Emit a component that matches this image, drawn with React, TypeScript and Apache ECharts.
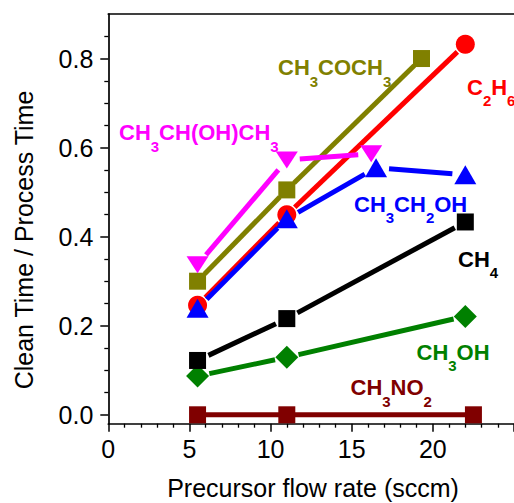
import React, { useEffect, useRef } from "react";
import * as echarts from "echarts";

// ---- data (x = precursor flow rate in sccm, y = clean time / process time) ----
const FLOW_CH3NO2 = [5.5, 11, 22.5];
const RATIO_CH3NO2 = [0, 0, 0];
const FLOW_CH3OH = [5.5, 11, 22];
const RATIO_CH3OH = [0.087, 0.129, 0.221];
const FLOW_CH4 = [5.5, 11, 22];
const RATIO_CH4 = [0.122, 0.216, 0.433];
const FLOW_CH3COCH3 = [5.5, 11, 19.3];
const RATIO_CH3COCH3 = [0.3, 0.505, 0.8];
const FLOW_C2H6 = [5.5, 11, 22];
const RATIO_C2H6 = [0.246, 0.449, 0.832];
const FLOW_CH3CH2OH = [5.5, 11, 16.5, 22];
const RATIO_CH3CH2OH = [0.239, 0.44, 0.555, 0.539];
const FLOW_IPA = [5.5, 11, 16.2];
const RATIO_IPA = [0.337, 0.572, 0.586];

const X_TICKS = [0, 5, 10, 15, 20];
const Y_TICKS = [0, 0.2, 0.4, 0.6, 0.8];

const X_TITLE = "Precursor flow rate (sccm)";
const Y_TITLE = "Clean Time / Process Time";

// rich-text series labels (subscripts in {s|..})
const LABEL_CH3COCH3 = "{m|CH}{s|3}{m|COCH}{s|3}";
const LABEL_C2H6 = "{m|C}{s|2}{m|H}{s|6}";
const LABEL_IPA = "{m|CH}{s|3}{m|CH(OH)CH}{s|3}";
const LABEL_CH3CH2OH = "{m|CH}{s|3}{m|CH}{s|2}{m|OH}";
const LABEL_CH4 = "{m|CH}{s|4}";
const LABEL_CH3OH = "{m|CH}{s|3}{m|OH}";
const LABEL_CH3NO2 = "{m|CH}{s|3}{m|NO}{s|2}";

const FONT = '"Liberation Sans", Arial, Helvetica, sans-serif';

type Def = {
  name: string;
  x: number[];
  y: number[];
  color: string;
  symbol: string;
  size: number[];
  rotate: number;
  gap: number;
};

const DEFS: Def[] = [
  { name: "CH3NO2", x: FLOW_CH3NO2, y: RATIO_CH3NO2, color: "#800000", symbol: "rect", size: [17, 17], rotate: 0, gap: 0 },
  { name: "CH3OH", x: FLOW_CH3OH, y: RATIO_CH3OH, color: "#008000", symbol: "diamond", size: [23, 23], rotate: 0, gap: 12 },
  { name: "CH4", x: FLOW_CH4, y: RATIO_CH4, color: "#000000", symbol: "rect", size: [17, 17], rotate: 0, gap: 12 },
  { name: "CH3COCH3", x: FLOW_CH3COCH3, y: RATIO_CH3COCH3, color: "#808000", symbol: "rect", size: [17, 17], rotate: 0, gap: 10 },
  { name: "C2H6", x: FLOW_C2H6, y: RATIO_C2H6, color: "#ff0000", symbol: "circle", size: [19, 19], rotate: 0, gap: 11 },
  { name: "CH3CH2OH", x: FLOW_CH3CH2OH, y: RATIO_CH3CH2OH, color: "#0000ff", symbol: "triangle", size: [22, 19], rotate: 0, gap: 13 },
  { name: "CH3CH(OH)CH3", x: FLOW_IPA, y: RATIO_IPA, color: "#ff00ff", symbol: "triangle", size: [22, 17], rotate: 180, gap: 13 },
];

const LABELS = [
  { text: LABEL_CH3COCH3, color: "#808000", left: 278, capTop: 60 },
  { text: LABEL_C2H6, color: "#ff0000", left: 467, capTop: 79.5 },
  { text: LABEL_IPA, color: "#ff00ff", left: 119, capTop: 125 },
  { text: LABEL_CH3CH2OH, color: "#0000ff", left: 354, capTop: 196.5 },
  { text: LABEL_CH4, color: "#000000", left: 458, capTop: 251.5 },
  { text: LABEL_CH3OH, color: "#008000", left: 416.5, capTop: 344.5 },
  { text: LABEL_CH3NO2, color: "#800000", left: 350.5, capTop: 380 },
];

export default function App() {
  const ref = useRef<HTMLDivElement>(null);

  useEffect(() => {
    if (!ref.current) return;
    const chart = echarts.init(ref.current, undefined, { renderer: "svg" });

    const series: any[] = [];
    DEFS.forEach((d, k) => {
      const pts = d.x.map((x, i) => [x, d.y[i]]);
      series.push({
        type: "custom",
        name: d.name + " line",
        data: pts,
        encode: { x: 0, y: 1 },
        z: 10 + 2 * k,
        silent: true,
        renderItem: (params: any, api: any) => {
          const i = params.dataIndex;
          if (i >= pts.length - 1) return { type: "group", children: [] };
          const p0 = api.coord(pts[i]);
          const p1 = api.coord(pts[i + 1]);
          const dx = p1[0] - p0[0];
          const dy = p1[1] - p0[1];
          const L = Math.hypot(dx, dy) || 1;
          const g = d.gap;
          return {
            type: "line",
            shape: {
              x1: p0[0] + (dx / L) * g,
              y1: p0[1] + (dy / L) * g,
              x2: p1[0] - (dx / L) * g,
              y2: p1[1] - (dy / L) * g,
            },
            style: { stroke: d.color, lineWidth: 5, lineCap: "butt" },
          };
        },
      });
      series.push({
        type: "scatter",
        name: d.name,
        data: pts,
        symbol: d.symbol,
        symbolSize: d.size,
        symbolRotate: d.rotate,
        itemStyle: { color: d.color, opacity: 1 },
        z: 11 + 2 * k,
        silent: true,
      });
    });

    const subPad = 17;
    const graphics: any[] = LABELS.map((l) => ({
      type: "text",
      x: l.left,
      y: l.capTop - 3.2,
      silent: true,
      style: {
        text: l.text,
        fill: l.color,
        font: `bold 22px ${FONT}`,
        align: "left",
        verticalAlign: "top",
        rich: {
          m: { font: `bold 22px ${FONT}`, fill: l.color, lineHeight: 22, verticalAlign: "top" },
          s: { font: `bold 15px ${FONT}`, fill: l.color, lineHeight: 15, padding: [subPad, 0, 0, 0], verticalAlign: "top" },
        },
      },
    }));
    graphics.push({
      type: "text",
      x: 313,
      y: 488,
      silent: true,
      style: { text: X_TITLE, fill: "#000", font: `25px ${FONT}`, align: "center", verticalAlign: "middle" },
    });
    graphics.push({
      type: "text",
      x: 24,
      y: 240,
      rotation: Math.PI / 2,
      silent: true,
      style: { text: Y_TITLE, fill: "#000", font: `25px ${FONT}`, align: "center", verticalAlign: "middle" },
    });

    const axisLine = { show: true, lineStyle: { color: "#000", width: 1.7 } };

    chart.setOption({
      animation: false,
      grid: { left: 108.3, top: 14, bottom: 79.3, right: -22.7, containLabel: false },
      xAxis: [
        {
          type: "value",
          min: 0,
          max: 25,
          interval: 5,
          axisLine: { ...axisLine, onZero: false },
          axisTick: { show: true, length: 8, inside: false, lineStyle: { color: "#000", width: 1.5 } },
          minorTick: { show: true, splitNumber: 5, length: 4, lineStyle: { color: "#000", width: 1.3 } },
          splitLine: { show: false },
          axisLabel: {
            show: true,
            color: "#000",
            fontSize: 25,
            fontFamily: FONT,
            margin: 13,
            customValues: X_TICKS,
          },
        },
        {
          type: "value",
          position: "top",
          min: 0,
          max: 25,
          interval: 5,
          axisLine: { ...axisLine, onZero: false },
          axisTick: { show: false },
          axisLabel: { show: false },
          splitLine: { show: false },
        },
      ],
      yAxis: {
        type: "value",
        min: -0.02,
        max: 0.9,
        splitNumber: 5,
        axisLine: { ...axisLine, onZero: false },
        axisTick: {
          show: true,
          length: 8,
          inside: false,
          customValues: Y_TICKS,
          lineStyle: { color: "#000", width: 1.5 },
        },
        minorTick: { show: true, splitNumber: 4, length: 4, lineStyle: { color: "#000", width: 1.3 } },
        splitLine: { show: false },
        axisLabel: {
          show: true,
          color: "#000",
          fontSize: 25,
          fontFamily: FONT,
          margin: 15,
          customValues: Y_TICKS,
          formatter: (v: number) => v.toFixed(1),
        },
      },
      graphic: graphics,
      series,
    });

    return () => chart.dispose();
  }, []);

  return <div ref={ref} style={{ width: 514, height: 503, position: "absolute", left: 0, top: 0 }} />;
}
